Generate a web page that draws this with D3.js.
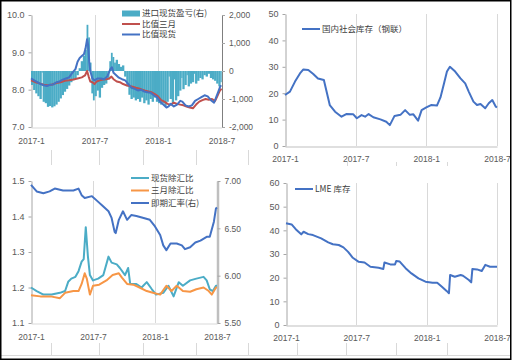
<!DOCTYPE html>
<html>
<head>
<meta charset="utf-8">
<script src="https://cdn.jsdelivr.net/npm/d3@7"></script>
<style>
  body { margin: 0; background: #fff; }
  text { font-family: "Liberation Sans", "Noto Sans CJK SC", sans-serif; fill: #595959; }
  .leg { font-family: "Noto Sans CJK SC", sans-serif; font-size: 8.5px; fill: #404040; }
</style>
</head>
<body>
<svg id="chart" width="513" height="362"></svg>
<script>
// x values are months since 2017-1
const monthTicks = [0, 6, 12, 18];
const monthLabels = ['2017-1', '2017-7', '2018-1', '2018-7'];

// top-left: import spot profit (right axis) and price ratios
const importProfit = [
  [0, -500], [0.2, -680], [0.4, -800], [0.6, -900], [0.8, -1000], [1.0, -60], [1.1, -1100],
  [1.3, -1150], [1.5, -1280], [1.7, -1250], [1.9, -1300], [2.1, -1260], [2.3, -1200],
  [2.5, -1100], [2.7, -980], [2.9, -860], [3.1, -740], [3.3, -640], [3.5, -520], [3.7, -400],
  [3.9, -330], [4.1, -250], [4.3, -150], [4.5, 100], [4.7, 350], [4.9, 550], [5.1, 750],
  [5.25, 1650], [5.4, 1200], [5.55, 300], [5.7, -800], [5.85, -1050], [6.0, -900], [6.2, -700],
  [6.4, -950], [6.6, -600], [6.8, -500], [7.0, -450], [7.2, -300], [7.4, 350], [7.55, 650],
  [7.7, 500], [7.85, 300], [8.0, 400], [8.2, 250], [8.4, 150], [8.6, 200], [8.8, -200],
  [9.0, -550], [9.2, -850], [9.4, -1000], [9.6, -950], [9.8, -1050], [10.0, -1000],
  [10.2, -1100], [10.4, -950], [10.6, -1150], [10.8, -1050], [11.0, -1200], [11.2, -1000],
  [11.4, -1100], [11.6, -950], [11.8, -1100], [12.0, -1150], [12.2, -1200], [12.4, -1150],
  [12.6, -1250], [12.8, -1100], [13.0, -200], [13.1, -1000], [13.3, -1150], [13.5, -300],
  [13.6, -1050], [13.8, -900], [14.0, -700], [14.2, -250], [14.3, -650], [14.5, -500],
  [14.7, -150], [14.8, -550], [15.0, -450], [15.2, -400], [15.4, -100], [15.5, -450],
  [15.7, -350], [15.9, -250], [16.1, -300], [16.3, -150], [16.5, -200], [16.7, -100],
  [16.9, -250], [17.1, -300], [17.3, -350], [17.5, -450], [17.7, -550], [17.9, -400], [18.0, -400]
];
const ratio3m = [
  [0, 8.25], [0.4, 8.2], [0.8, 8.17], [1.2, 8.13], [1.6, 8.12], [2.0, 8.14], [2.4, 8.18],
  [2.8, 8.2], [3.2, 8.24], [3.6, 8.25], [4.0, 8.27], [4.4, 8.3], [4.8, 8.33], [5.1, 8.38],
  [5.3, 8.5], [5.45, 8.35], [5.6, 8.22], [5.8, 8.2], [6.0, 8.15], [6.2, 8.22], [6.5, 8.25],
  [6.8, 8.27], [7.1, 8.28], [7.4, 8.3], [7.6, 8.35], [7.8, 8.28], [8.1, 8.22], [8.4, 8.2],
  [8.7, 8.15], [9.0, 8.12], [9.3, 8.1], [9.6, 8.08], [9.9, 8.05], [10.2, 8.03], [10.5, 8.0],
  [10.8, 7.97], [11.1, 7.95], [11.4, 7.93], [11.7, 7.88], [12.0, 7.82], [12.3, 7.72],
  [12.6, 7.68], [12.9, 7.62], [13.2, 7.6], [13.5, 7.65], [13.8, 7.62], [14.1, 7.6],
  [14.4, 7.58], [14.7, 7.55], [15.0, 7.52], [15.3, 7.5], [15.6, 7.6], [15.9, 7.68],
  [16.2, 7.72], [16.5, 7.75], [16.8, 7.73], [17.1, 7.75], [17.4, 7.7], [17.6, 7.82],
  [17.8, 7.95], [18.0, 8.03]
];
const ratioSpot = [
  [0, 8.3], [0.3, 8.25], [0.6, 8.2], [0.9, 8.15], [1.2, 8.12], [1.5, 8.1], [1.8, 8.13],
  [2.1, 8.14], [2.4, 8.2], [2.7, 8.22], [3.0, 8.27], [3.3, 8.3], [3.6, 8.33], [3.9, 8.45],
  [4.2, 8.55], [4.4, 8.75], [4.6, 8.85], [4.8, 8.9], [5.0, 8.95], [5.15, 9.1], [5.3, 9.35],
  [5.4, 9.2], [5.5, 8.75], [5.6, 8.5], [5.8, 8.3], [6.0, 8.25], [6.3, 8.3], [6.6, 8.3],
  [6.9, 8.28], [7.2, 8.35], [7.5, 8.55], [7.65, 8.6], [7.8, 8.45], [8.0, 8.4], [8.3, 8.32],
  [8.6, 8.28], [8.9, 8.25], [9.2, 8.15], [9.5, 8.05], [9.8, 8.02], [10.1, 7.98], [10.4, 8.0],
  [10.7, 7.95], [11.0, 7.93], [11.3, 7.92], [11.6, 7.85], [11.9, 7.8], [12.2, 7.68],
  [12.5, 7.6], [12.8, 7.52], [13.0, 7.55], [13.2, 7.62], [13.5, 7.55], [13.8, 7.6],
  [14.1, 7.7], [14.3, 7.68], [14.6, 7.58], [14.9, 7.55], [15.2, 7.58], [15.5, 7.7],
  [15.8, 7.75], [16.1, 7.8], [16.4, 7.85], [16.7, 7.82], [17.0, 7.72], [17.3, 7.65],
  [17.5, 7.8], [17.7, 7.95], [17.9, 8.1], [18.0, 8.1]
];

// top-right: domestic social stock (Mysteel)
const domesticStock = [
  [0, 19.3], [0.42, 20.6], [0.85, 24.4], [1.27, 27.5], [1.56, 29.0], [1.98, 28.8], [2.4, 27.3],
  [2.8, 25.6], [3.3, 25.0], [3.5, 21.2], [3.8, 15.5], [4.25, 13.0], [4.8, 11.1], [5.2, 12.1],
  [5.8, 12.0], [6.1, 10.5], [6.5, 11.7], [6.8, 11.1], [7.1, 12.1], [7.5, 10.9], [8.1, 10.1],
  [8.6, 9.2], [8.9, 7.9], [9.3, 11.4], [9.8, 11.8], [10.2, 13.6], [10.6, 11.8], [10.9, 12.0],
  [11.3, 9.6], [11.6, 13.6], [12.0, 14.6], [12.4, 15.5], [12.9, 15.3], [13.2, 18.4],
  [13.5, 23.7], [13.75, 28.2], [14.0, 30.0], [14.45, 28.2], [14.9, 25.6], [15.3, 23.7],
  [15.6, 20.6], [16.0, 16.8], [16.3, 15.5], [16.6, 15.9], [17.0, 14.3], [17.3, 16.2],
  [17.6, 17.4], [17.9, 14.9], [18.0, 14.6]
];

// bottom-left: ratios divided by fx (left) and spot fx rate (right)
const spotFxRatio = [
  [0, 1.2], [0.55, 1.19], [1.2, 1.18], [2.0, 1.18], [2.8, 1.185], [3.3, 1.19], [3.6, 1.216],
  [3.9, 1.225], [4.3, 1.23], [4.6, 1.246], [4.9, 1.273], [5.1, 1.28], [5.3, 1.37], [5.5, 1.29],
  [5.7, 1.235], [6.0, 1.22], [6.5, 1.225], [7.0, 1.235], [7.5, 1.287], [7.8, 1.27],
  [8.3, 1.265], [8.6, 1.255], [9.1, 1.235], [9.4, 1.255], [9.6, 1.21], [10.2, 1.21],
  [10.7, 1.2], [11.2, 1.215], [11.7, 1.195], [12.1, 1.18], [12.8, 1.185], [13.3, 1.205],
  [13.8, 1.175], [14.3, 1.215], [14.7, 1.205], [15.4, 1.22], [16.0, 1.225], [16.7, 1.23],
  [17.0, 1.22], [17.3, 1.195], [17.6, 1.19], [17.9, 1.205], [18.0, 1.205]
];
const threeMonthFxRatio = [
  [0, 1.178], [0.9, 1.175], [1.9, 1.175], [2.8, 1.17], [3.3, 1.185], [4.1, 1.19], [4.6, 1.19],
  [4.9, 1.21], [5.2, 1.24], [5.4, 1.225], [5.7, 1.18], [6.0, 1.205], [6.6, 1.208], [7.3, 1.22],
  [7.9, 1.235], [8.5, 1.24], [8.8, 1.228], [9.3, 1.21], [9.9, 1.208], [10.5, 1.2],
  [11.2, 1.19], [11.8, 1.185], [12.5, 1.18], [13.1, 1.205], [13.6, 1.19], [14.1, 1.205],
  [14.7, 1.19], [15.4, 1.188], [16.0, 1.195], [16.7, 1.2], [17.2, 1.19], [17.5, 1.18],
  [17.9, 1.2], [18.0, 1.2]
];
const spotFxRate = [
  [0, 6.96], [0.55, 6.89], [1.2, 6.87], [1.8, 6.89], [2.3, 6.92], [3.1, 6.9], [4.1, 6.9],
  [4.6, 6.92], [4.9, 6.85], [5.2, 6.82], [5.9, 6.84], [6.4, 6.79], [7.0, 6.73], [7.5, 6.68],
  [7.8, 6.61], [8.1, 6.46], [8.2, 6.45], [8.5, 6.59], [8.9, 6.68], [9.3, 6.59], [9.7, 6.64],
  [10.2, 6.63], [10.9, 6.61], [11.5, 6.59], [12.0, 6.52], [12.5, 6.43], [12.8, 6.32],
  [13.1, 6.27], [13.5, 6.34], [14.1, 6.34], [14.6, 6.32], [14.9, 6.28], [15.4, 6.3],
  [15.9, 6.35], [16.4, 6.37], [17.0, 6.41], [17.3, 6.41], [17.7, 6.57], [17.9, 6.71], [18.0, 6.72]
];

// bottom-right: LME stock
const lmeStock = [
  [0, 43.0], [0.48, 42.5], [0.9, 40.1], [1.3, 38.3], [1.5, 39.4], [1.9, 38.4], [2.3, 38.0],
  [3.0, 36.6], [3.6, 34.9], [4.0, 34.1], [4.5, 33.8], [4.9, 32.8], [5.3, 30.9], [5.7, 28.4],
  [6.2, 26.7], [6.7, 26.4], [7.2, 24.6], [7.9, 24.2], [8.3, 23.7], [8.4, 26.4], [8.9, 25.6],
  [9.3, 25.6], [9.4, 27.0], [9.7, 26.8], [10.2, 24.0], [10.7, 21.8], [11.3, 19.7],
  [11.9, 18.3], [12.5, 17.9], [12.9, 17.9], [13.3, 16.2], [13.7, 14.4], [13.9, 13.4],
  [14.0, 21.1], [14.4, 20.4], [14.9, 21.1], [15.1, 20.8], [15.6, 19.0], [15.8, 18.0],
  [15.9, 23.7], [16.3, 23.5], [16.7, 22.8], [17.0, 25.4], [17.4, 24.6], [18.0, 24.6]
];

const svg = d3.select('#chart');
const fixMinus = f => d => f(d).replace('\u2212', '-');

// table-like decoration of the source document
const deco = svg.append('g').attr('stroke', '#d9d9d9').attr('fill', 'none');
deco.append('line').attr('x1', 0).attr('x2', 510).attr('y1', 355.5).attr('y2', 355.5);
[51, 99, 143, 196, 248].forEach(x => {
  deco.append('line').attr('x1', x + 0.5).attr('x2', x + 0.5).attr('y1', 150).attr('y2', 165);
});
[51, 99, 143, 196, 248, 297, 346, 396, 447].forEach(x => {
  deco.append('line').attr('x1', x + 0.5).attr('x2', x + 0.5).attr('y1', 343).attr('y2', 355);
});
[347, 396, 447].forEach(x => {
  deco.append('line').attr('x1', x + 0.5).attr('x2', x + 0.5).attr('y1', 162).attr('y2', 166);
});

function drawPanel(cfg) {
  const g = svg.append('g');
  const x = d3.scaleLinear().domain([0, 18]).range(cfg.xRange);
  const y = d3.scaleLinear().domain(cfg.yDomain).range(cfg.yRange);

  // vertical gridlines
  g.selectAll('.grid').data(cfg.grid).join('line')
    .attr('x1', d => Math.round(x(d)) + 0.5).attr('x2', d => Math.round(x(d)) + 0.5)
    .attr('y1', cfg.yRange[1]).attr('y2', cfg.yRange[0])
    .attr('stroke', '#d9d9d9');

  // bottom axis
  const bx = g.append('g').attr('transform', `translate(0,${cfg.yRange[0] + 0.5})`)
    .call(d3.axisBottom(x).tickValues(monthTicks).tickSize(0).tickPadding(cfg.xPad)
      .tickFormat((d, i) => monthLabels[i]));
  bx.select('.domain').attr('stroke', cfg.bottomLine);
  bx.selectAll('text').attr('font-size', 8.5).attr('fill', '#595959')
    .attr('font-family', 'Liberation Sans');

  // left axis
  const ly = g.append('g').attr('transform', `translate(${cfg.xRange[0] + 0.5},0)`)
    .call(d3.axisLeft(y).tickValues(cfg.yTicks).tickSize(3).tickSizeOuter(0)
      .tickPadding(4).tickFormat(cfg.yFormat));
  ly.select('.domain').attr('stroke', '#a6a6a6');
  ly.selectAll('line').attr('stroke', '#a6a6a6');
  ly.selectAll('text').attr('font-size', 9).attr('fill', '#595959')
    .attr('font-family', 'Liberation Sans');

  let y2 = null;
  if (cfg.rDomain) {
    y2 = d3.scaleLinear().domain(cfg.rDomain).range(cfg.yRange);
    const ry = g.append('g').attr('transform', `translate(${cfg.xRange[1] + 0.5},0)`)
      .call(d3.axisRight(y2).tickValues(cfg.rTicks).tickSize(3).tickSizeOuter(0)
        .tickPadding(4).tickFormat(cfg.rFormat));
    ry.select('.domain').attr('stroke', cfg.rColor).attr('stroke-width', cfg.rWidth);
    ry.selectAll('line').attr('stroke', '#a6a6a6');
    ry.selectAll('text').attr('font-size', 8.5).attr('fill', '#595959')
      .attr('font-family', 'Liberation Sans');
  }

  // bars (right axis)
  if (cfg.bars) {
    const b = cfg.bars;
    g.selectAll('.bar').data(b.slice(0, -1)).join('rect')
      .attr('x', d => x(d[0]))
      .attr('width', (d, i) => x(b[i + 1][0]) - x(d[0]) + 0.2)
      .attr('y', d => Math.min(y2(d[1]), y2(0)))
      .attr('height', d => Math.abs(y2(d[1]) - y2(0)))
      .attr('fill', '#4bacc6');
  }

  cfg.lines.forEach(s => {
    const sc = s.right ? y2 : y;
    g.append('path').datum(s.data)
      .attr('fill', 'none').attr('stroke', s.color).attr('stroke-width', 2)
      .attr('stroke-linejoin', 'round')
      .attr('d', d3.line().x(d => x(d[0])).y(d => sc(d[1])));
  });

  // legend
  cfg.legend.forEach(l => {
    if (l.bar) {
      g.append('rect').attr('x', l.x).attr('y', l.y - 3).attr('width', 18).attr('height', 6)
        .attr('fill', l.color);
    } else {
      g.append('line').attr('x1', l.x).attr('x2', l.x + 18).attr('y1', l.y).attr('y2', l.y)
        .attr('stroke', l.color).attr('stroke-width', 2);
    }
    g.append('text').attr('class', 'leg').attr('x', l.x + 20).attr('y', l.y)
      .attr('dy', '0.35em').text(l.label);
  });
}

drawPanel({
  xRange: [31, 221.5], yRange: [127, 15], yDomain: [7, 10],
  yTicks: [7, 8, 9, 10], yFormat: d3.format('.1f'), xPad: 10, bottomLine: '#d9d9d9',
  rDomain: [-2000, 2000], rTicks: [-2000, -1000, 0, 1000, 2000],
  rFormat: fixMinus(d3.format(',')), rColor: '#7f7f7f', rWidth: 1,
  grid: [6, 12], bars: importProfit,
  lines: [
    { data: ratio3m, color: '#c0504d' },
    { data: ratioSpot, color: '#4472c4' }
  ],
  legend: [
    { x: 122, y: 13.5, color: '#4bacc6', label: '进口现货盈亏(右)', bar: true },
    { x: 122, y: 24, color: '#c0504d', label: '比值三月' },
    { x: 122, y: 34.5, color: '#4472c4', label: '比值现货' }
  ]
});

drawPanel({
  xRange: [285, 497], yRange: [146, 14], yDomain: [0, 50],
  yTicks: [0, 10, 20, 30, 40, 50], yFormat: d3.format('d'), xPad: 9, bottomLine: '#bfbfbf',
  grid: [6, 12, 18],
  lines: [{ data: domesticStock, color: '#4472c4' }],
  legend: [{ x: 302, y: 29, color: '#4472c4', label: '国内社会库存（钢联）' }]
});

drawPanel({
  xRange: [31, 217], yRange: [323, 181], yDomain: [1.1, 1.5],
  yTicks: [1.1, 1.2, 1.3, 1.4, 1.5], yFormat: d3.format('.1f'), xPad: 10, bottomLine: '#d9d9d9',
  rDomain: [5.5, 7], rTicks: [5.5, 6, 6.5, 7], rFormat: d3.format('.2f'),
  rColor: '#bfbfbf', rWidth: 2.5,
  grid: [6, 12],
  lines: [
    { data: spotFxRatio, color: '#4bacc6' },
    { data: threeMonthFxRatio, color: '#f79646' },
    { data: spotFxRate, color: '#4472c4', right: true }
  ],
  legend: [
    { x: 131, y: 178, color: '#4bacc6', label: '现货除汇比' },
    { x: 131, y: 190.5, color: '#f79646', label: '三月除汇比' },
    { x: 131, y: 203, color: '#4472c4', label: '即期汇率(右)' }
  ]
});

drawPanel({
  xRange: [286, 497], yRange: [325, 183], yDomain: [0, 60],
  yTicks: [0, 10, 20, 30, 40, 50, 60], yFormat: d3.format('d'), xPad: 9, bottomLine: '#bfbfbf',
  grid: [6, 12, 18],
  lines: [{ data: lmeStock, color: '#4472c4' }],
  legend: [{ x: 295, y: 189, color: '#4472c4', label: 'LME 库存' }]
});

// outer frame
svg.append('rect').attr('x', 0.75).attr('y', 0.75).attr('width', 510).attr('height', 358.5)
  .attr('fill', 'none').attr('stroke', '#000').attr('stroke-width', 1.5);
</script>
</body>
</html>
